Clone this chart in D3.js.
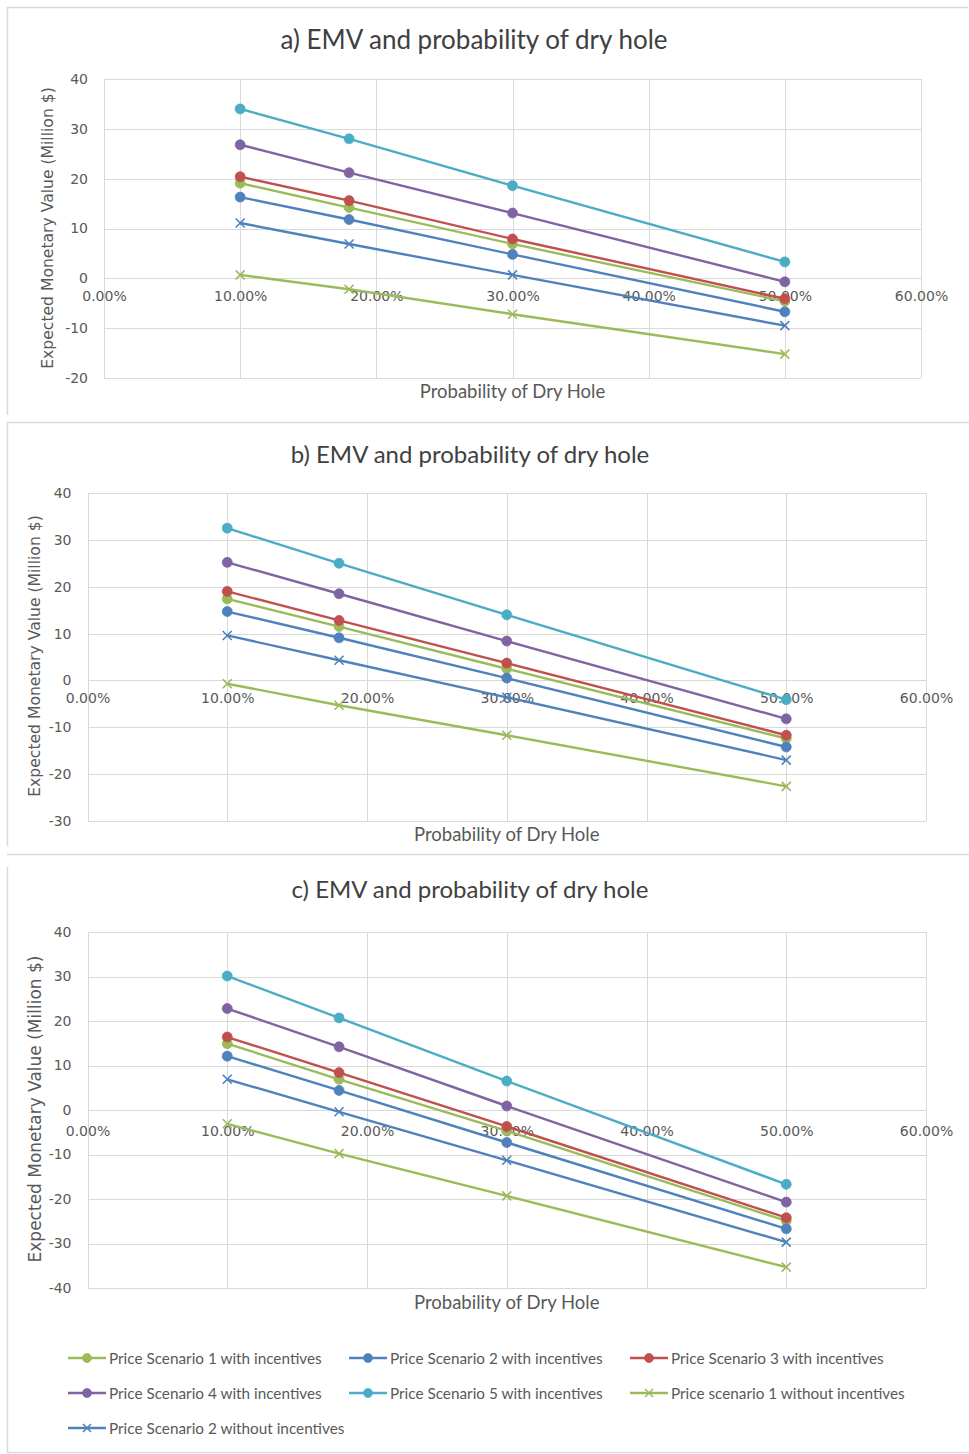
<!DOCTYPE html>
<html>
<head>
<meta charset="utf-8">
<script src="https://cdn.jsdelivr.net/npm/d3@7"></script>
<style>
  html, body { margin: 0; padding: 0; background: #ffffff; }
  svg { display: block; }
</style>
</head>
<body>
<svg id="chart" width="969" height="1454"></svg>
<script>
// Probability of a dry hole at which each scenario was evaluated
const dryHoleProb = [0.10, 0.18, 0.30, 0.50];
const xTickValues = [0, 0.1, 0.2, 0.3, 0.4, 0.5, 0.6];

// Series names, in drawing / legend order
const seriesNames = [
  "Price Scenario 1 with incentives",
  "Price Scenario 2 with incentives",
  "Price Scenario 3 with incentives",
  "Price Scenario 4 with incentives",
  "Price Scenario 5 with incentives",
  "Price scenario 1 without incentives",
  "Price Scenario 2 without incentives"
];
const seriesColors = ["#9BBB59", "#4F81BD", "#C0504D", "#8064A2", "#4BACC6", "#9BBB59", "#4F81BD"];
const seriesMarkers = ["circle", "circle", "circle", "circle", "circle", "cross", "cross"];

// a) EMV (Million $)
const aS1 = [19.1, 14.2, 6.9, -4.6];
const aS2 = [16.3, 11.8, 4.8, -6.7];
const aS3 = [20.4, 15.6, 7.9, -4.1];
const aS4 = [26.8, 21.2, 13.1, -0.7];
const aS5 = [34.0, 28.0, 18.6, 3.3];
const aS1NoInc = [0.7, -2.2, -7.2, -15.2];
const aS2NoInc = [11.1, 6.9, 0.7, -9.5];
const aYTicks = [-20, -10, 0, 10, 20, 30, 40];

// b) EMV (Million $)
const bS1 = [17.4, 11.5, 2.5, -12.4];
const bS2 = [14.7, 9.1, 0.5, -14.2];
const bS3 = [19.0, 12.8, 3.7, -11.7];
const bS4 = [25.2, 18.5, 8.4, -8.2];
const bS5 = [32.5, 25.0, 14.0, -4.1];
const bS1NoInc = [-0.7, -5.3, -11.7, -22.6];
const bS2NoInc = [9.6, 4.3, -3.6, -17.0];
const bYTicks = [-30, -20, -10, 0, 10, 20, 30, 40];

// c) EMV (Million $)
const cS1 = [14.9, 6.9, -4.7, -24.9];
const cS2 = [12.1, 4.4, -7.3, -26.7];
const cS3 = [16.4, 8.4, -3.7, -24.2];
const cS4 = [22.8, 14.2, 0.9, -20.7];
const cS5 = [30.1, 20.7, 6.5, -16.7];
const cS1NoInc = [-3.1, -9.8, -19.3, -35.3];
const cS2NoInc = [6.9, -0.4, -11.3, -29.7];
const cYTicks = [-40, -30, -20, -10, 0, 10, 20, 30, 40];

const panelTitles = [
  "a) EMV and probability of dry hole",
  "b) EMV and probability of dry hole",
  "c) EMV and probability of dry hole"
];
const xAxisTitle = "Probability of Dry Hole";
const yAxisTitle = "Expected Monetary Value (Million $)";

const svg = d3.select("#chart");
const GRID = "#d9d9d9";
const TEXT = "#595959";
const TICK_FONT = "'DejaVu Sans', Verdana, sans-serif";
const LABEL_FONT = "Lato, 'Open Sans', sans-serif";

// Panel frames
const frame = svg.append("g").attr("stroke", GRID).attr("stroke-width", 1.5).attr("fill", "none");
frame.append("path").attr("d", "M7.5,415 V7.5 H968");
frame.append("path").attr("d", "M7.5,846 V422.5 H969");
frame.append("path").attr("d", "M7,854.5 H969");
frame.append("path").attr("d", "M7.5,867 V1452.5 H969");

const layouts = [
  { x0: 104, x1: 921, y0: 378, y1: 79, titleX: 474, titleY: 49, titleSize: 26,
    yTitleX: 48, yTitleY: 228, yTitleSize: 15.6, xTitleY: 398, tickGap: 21,
    yTicks: aYTicks, series: [aS1, aS2, aS3, aS4, aS5, aS1NoInc, aS2NoInc] },
  { x0: 87.5, x1: 926, y0: 821, y1: 493, titleX: 470, titleY: 463, titleSize: 24,
    yTitleX: 35, yTitleY: 656, yTitleSize: 15.6, xTitleY: 841, tickGap: 21,
    yTicks: bYTicks, series: [bS1, bS2, bS3, bS4, bS5, bS1NoInc, bS2NoInc] },
  { x0: 87.5, x1: 926, y0: 1288, y1: 932, titleX: 470, titleY: 898, titleSize: 24,
    yTitleX: 35, yTitleY: 1109, yTitleSize: 17, xTitleY: 1309, tickGap: 24,
    yTicks: cYTicks, series: [cS1, cS2, cS3, cS4, cS5, cS1NoInc, cS2NoInc] }
];

function drawMarker(sel, kind, color, size) {
  if (kind === "circle") {
    sel.append("circle").attr("r", size).attr("fill", color).attr("stroke", color).attr("stroke-width", 0.75);
  } else {
    const s = size;
    sel.append("path")
      .attr("d", `M${-s},${-s}L${s},${s}M${-s},${s}L${s},${-s}`)
      .attr("stroke", color).attr("stroke-width", 1.6).attr("fill", "none");
  }
}

layouts.forEach((L, pi) => {
  const yMin = d3.min(L.yTicks), yMax = d3.max(L.yTicks);
  const x = d3.scaleLinear().domain([0, 0.6]).range([L.x0, L.x1]);
  const y = d3.scaleLinear().domain([yMin, yMax]).range([L.y0, L.y1]);
  const g = svg.append("g");

  // Gridlines
  g.append("g").selectAll("line").data(L.yTicks).join("line")
    .attr("x1", L.x0).attr("x2", L.x1)
    .attr("y1", d => Math.round(y(d)) + 0.5).attr("y2", d => Math.round(y(d)) + 0.5)
    .attr("stroke", GRID).attr("stroke-width", 1);
  g.append("g").selectAll("line").data(xTickValues).join("line")
    .attr("x1", d => Math.round(x(d)) + 0.5).attr("x2", d => Math.round(x(d)) + 0.5)
    .attr("y1", L.y1).attr("y2", L.y0)
    .attr("stroke", GRID).attr("stroke-width", 1);

  // Y axis labels (plain hyphen for negatives)
  const yAxis = d3.axisLeft(y).tickValues(L.yTicks).tickSize(0).tickPadding(16).tickFormat(d => String(d));
  const ya = g.append("g").attr("transform", `translate(${L.x0},0)`).call(yAxis);
  ya.select(".domain").remove();
  ya.selectAll("text").attr("fill", TEXT).attr("font-family", TICK_FONT).attr("font-size", 14);

  // X axis labels sit just below the zero line
  const xAxis = d3.axisBottom(x).tickValues(xTickValues).tickSize(0).tickPadding(L.tickGap - 8).tickFormat(d3.format(".2%"));
  const xa = g.append("g").attr("transform", `translate(0,${y(0)})`).call(xAxis);
  xa.select(".domain").remove();
  xa.selectAll("text").attr("fill", TEXT).attr("font-family", TICK_FONT).attr("font-size", 14);

  // Titles
  g.append("text").attr("x", L.titleX).attr("y", L.titleY).attr("text-anchor", "middle")
    .attr("font-family", LABEL_FONT).attr("font-size", L.titleSize).attr("fill", "#404040")
    .text(panelTitles[pi]);
  g.append("text").attr("x", (L.x0 + L.x1) / 2).attr("y", L.xTitleY).attr("text-anchor", "middle")
    .attr("font-family", LABEL_FONT).attr("font-size", 18.5).attr("fill", TEXT)
    .text(xAxisTitle);
  g.append("text").attr("transform", `translate(${L.yTitleX},${L.yTitleY}) rotate(-90)`)
    .attr("text-anchor", "middle").attr("dominant-baseline", "central")
    .attr("font-family", TICK_FONT).attr("font-size", L.yTitleSize).attr("fill", TEXT)
    .text(yAxisTitle);

  // Series lines and markers
  const line = d3.line().x((d, i) => x(dryHoleProb[i])).y(d => y(d));
  L.series.forEach((vals, si) => {
    const sg = g.append("g");
    sg.append("path").datum(vals).attr("d", line)
      .attr("fill", "none").attr("stroke", seriesColors[si]).attr("stroke-width", 2.4)
      .attr("stroke-linejoin", "round");
    sg.selectAll("g.pt").data(vals).join("g").attr("class", "pt")
      .attr("transform", (d, i) => `translate(${x(dryHoleProb[i])},${y(d)})`)
      .each(function () { drawMarker(d3.select(this), seriesMarkers[si], seriesColors[si], seriesMarkers[si] === "circle" ? 5 : 4.5); });
  });
});

// Legend
const legendCols = [68, 349, 630];
const legendRows = [1358, 1393, 1428];
const legend = svg.append("g");
seriesNames.forEach((name, i) => {
  const lx = legendCols[i % 3], ly = legendRows[Math.floor(i / 3)];
  const item = legend.append("g").attr("transform", `translate(${lx},${ly})`);
  item.append("line").attr("x1", 0).attr("x2", 38).attr("y1", 0).attr("y2", 0)
    .attr("stroke", seriesColors[i]).attr("stroke-width", 2.4);
  const m = item.append("g").attr("transform", "translate(19,0)");
  drawMarker(m, seriesMarkers[i], seriesColors[i], seriesMarkers[i] === "circle" ? 4.5 : 4);
  item.append("text").attr("x", 41).attr("y", 0).attr("dominant-baseline", "central")
    .attr("font-family", LABEL_FONT).attr("font-size", 15.3).attr("fill", TEXT)
    .text(name);
});
</script>
</body>
</html>
